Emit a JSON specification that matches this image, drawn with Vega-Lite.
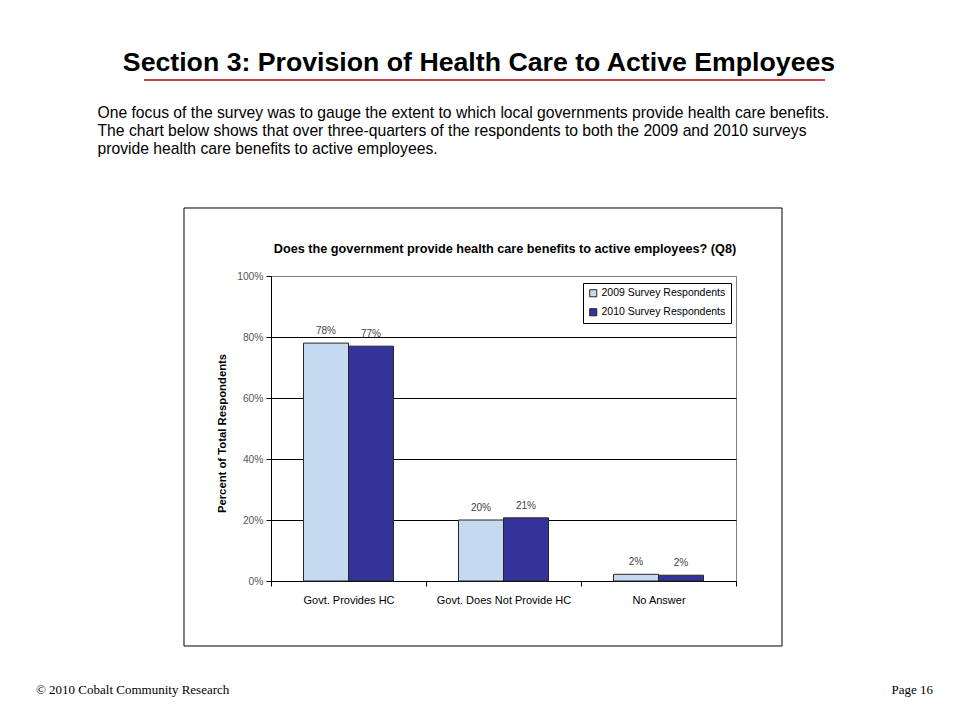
{
  "$schema": "https://vega.github.io/schema/vega-lite/v6.json",
  "width": 465,
  "height": 305,
  "autosize": {"type": "none"},
  "padding": {"left": 271, "top": 276, "right": 224, "bottom": 139},
  "background": "white",
  "config": {
    "font": "Liberation Sans",
    "view": {"stroke": "#808080", "strokeWidth": 1}
  },
  "title": {
    "text": "Section 3: Provision of Health Care to Active Employees",
    "fontSize": 26.7,
    "fontWeight": "bold",
    "color": "black",
    "anchor": "middle",
    "frame": "group",
    "dx": -24.5,
    "offset": 3
  },
  "resolve": {"scale": {"x": "independent", "y": "independent"}},
  "layer": [
    {
      "data": {"values": [{}]},
      "layer": [
        {
          "mark": {"type": "rect", "fill": "transparent", "stroke": "black", "strokeWidth": 1},
          "encoding": {
            "x": {
              "datum": -0.1871,
              "type": "quantitative",
              "scale": {"domain": [0, 1], "nice": false, "zero": false},
              "axis": null
            },
            "x2": {"datum": 1.0989},
            "y": {
              "datum": 1.2230,
              "type": "quantitative",
              "scale": {"domain": [0, 1], "nice": false, "zero": false},
              "axis": null
            },
            "y2": {"datum": -0.2131}
          }
        },
        {
          "mark": {"type": "rule", "stroke": "#C00000", "strokeWidth": 1.5},
          "encoding": {
            "x": {"datum": -0.2731, "type": "quantitative", "axis": null},
            "x2": {"datum": 1.1914},
            "y": {"datum": 1.6426, "type": "quantitative", "axis": null}
          }
        },
        {
          "mark": {"type": "text", "text": "Does the government provide health care benefits to active employees? (Q8)", "align": "center", "baseline": "alphabetic", "fontSize": 12.7, "fontWeight": "bold", "color": "black"},
          "encoding": {
            "x": {"datum": 0.5032, "type": "quantitative", "axis": null},
            "y": {"datum": 1.0754, "type": "quantitative", "axis": null}
          }
        },
        {
          "mark": {"type": "text", "text": "© 2010 Cobalt Community Research", "align": "left", "baseline": "alphabetic", "font": "Liberation Serif", "fontSize": 13, "color": "black"},
          "encoding": {
            "x": {"datum": -0.5054, "type": "quantitative", "axis": null},
            "y": {"datum": -0.3705, "type": "quantitative", "axis": null}
          }
        },
        {
          "mark": {"type": "text", "text": "Page 16", "align": "right", "baseline": "alphabetic", "font": "Liberation Serif", "fontSize": 13, "color": "black"},
          "encoding": {
            "x": {"datum": 1.4237, "type": "quantitative", "axis": null},
            "y": {"datum": -0.3705, "type": "quantitative", "axis": null}
          }
        }
      ]
    },
    {
      "data": {
        "values": [
          {"category": "Govt. Provides HC", "year": "2009 Survey Respondents", "value": 0.78},
          {"category": "Govt. Provides HC", "year": "2010 Survey Respondents", "value": 0.77},
          {"category": "Govt. Does Not Provide HC", "year": "2009 Survey Respondents", "value": 0.20},
          {"category": "Govt. Does Not Provide HC", "year": "2010 Survey Respondents", "value": 0.207},
          {"category": "No Answer", "year": "2009 Survey Respondents", "value": 0.022},
          {"category": "No Answer", "year": "2010 Survey Respondents", "value": 0.019}
        ]
      },
      "encoding": {
        "x": {
          "field": "category",
          "type": "nominal",
          "sort": null,
          "scale": {"paddingInner": 0, "paddingOuter": 0},
          "axis": {
            "orient": "bottom",
            "tickBand": "extent",
            "tickSize": 5,
            "tickColor": "black",
            "domainColor": "black",
            "labelColor": "black",
            "labelFontSize": 11,
            "labelPadding": 8,
            "labelAngle": 0,
            "grid": false,
            "title": [
              "One focus of the survey was to gauge the extent to which local governments provide health care benefits.",
              "The chart below shows that over three-quarters of the respondents to both the 2009 and 2010 surveys",
              "provide health care benefits to active employees."
            ],
            "titleFontSize": 15.7,
            "titleFontWeight": "normal",
            "titleColor": "black",
            "titleX": -174,
            "titleY": -463.7,
            "titleAlign": "left",
            "titleAnchor": "start",
            "titleBaseline": "alphabetic",
            "titleLineHeight": 18.1,
            "titleLimit": 2000
          }
        },
        "xOffset": {
          "field": "year",
          "type": "nominal",
          "scale": {"paddingInner": 0, "paddingOuter": 0.7222}
        },
        "y": {
          "field": "value",
          "type": "quantitative",
          "scale": {"domain": [0, 1], "nice": false},
          "axis": {
            "values": [0, 0.2, 0.4, 0.6, 0.8, 1],
            "format": ".0%",
            "labelColor": "#555555",
            "labelFontSize": 10.3,
            "labelPadding": 3,
            "tickSize": 5,
            "tickColor": "black",
            "domainColor": "black",
            "grid": true,
            "gridColor": {"condition": {"test": "datum.value === 1", "value": "#808080"}, "value": "black"},
            "gridWidth": 1,
            "title": "Percent of Total Respondents",
            "titleFontSize": 11.3,
            "titleFontWeight": "bold",
            "titleColor": "black",
            "titleX": -49,
            "titleY": 157,
            "titleAngle": -90,
            "titleAlign": "center",
            "titleBaseline": "middle"
          }
        }
      },
      "layer": [
        {
          "mark": {"type": "bar", "stroke": "#262626", "strokeWidth": 1},
          "encoding": {
            "color": {
              "field": "year",
              "type": "nominal",
              "scale": {"range": ["#C5D9F1", "#333399"]},
              "legend": {
                "orient": "none",
                "legendX": 312,
                "legendY": 7,
                "title": null,
                "strokeColor": "black",
                "fillColor": "white",
                "padding": 5,
                "symbolType": "square",
                "symbolSize": 50,
                "symbolStrokeColor": "#222222",
                "symbolStrokeWidth": 1,
                "labelFontSize": 10.5,
                "labelColor": "black",
                "labelOffset": 3,
                "rowPadding": 7,
                "labelLimit": 300
              }
            }
          }
        },
        {
          "mark": {"type": "text", "baseline": "bottom", "dy": -7, "fontSize": 10, "color": "#404040"},
          "encoding": {
            "text": {"field": "value", "type": "quantitative", "format": ".0%"}
          }
        }
      ]
    }
  ]
}
